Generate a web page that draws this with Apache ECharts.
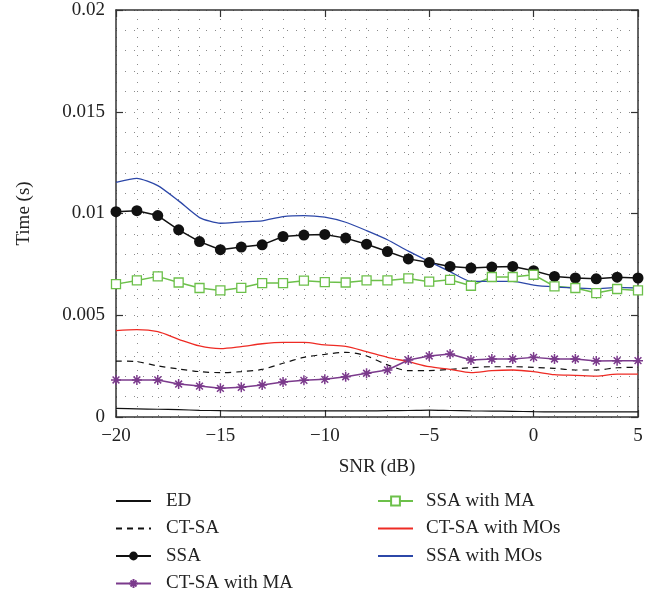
<!DOCTYPE html>
<html>
<head>
<meta charset="utf-8">
<script src="https://cdn.jsdelivr.net/npm/echarts@6/dist/echarts.min.js"></script>
<style>
  html, body { margin: 0; padding: 0; background: #fff; }
  #chart { width: 658px; height: 599px; }
</style>
</head>
<body>
<div id="chart"></div>
<script>
// SNR sweep (dB)
const snr = [-20, -19, -18, -17, -16, -15, -14, -13, -12, -11, -10, -9, -8, -7, -6, -5, -4, -3, -2, -1, 0, 1, 2, 3, 4, 5];

// Sensing time (s) for each method
const ed = [0.00042, 0.00040, 0.00038, 0.00036, 0.00033, 0.00031, 0.00030, 0.00030, 0.00030, 0.00030, 0.00030, 0.00030, 0.00030, 0.00031, 0.00032, 0.00034, 0.00032, 0.00030, 0.00029, 0.00028, 0.00026, 0.00025, 0.00025, 0.00025, 0.00025, 0.00025];
const ctsa = [0.00275, 0.00272, 0.00251, 0.00236, 0.00223, 0.00218, 0.00223, 0.00234, 0.00264, 0.00293, 0.00308, 0.00318, 0.00300, 0.00256, 0.00228, 0.00228, 0.00234, 0.00242, 0.00247, 0.00247, 0.00244, 0.00239, 0.00231, 0.00231, 0.00242, 0.00244];
const ssa = [0.01009, 0.01014, 0.00990, 0.00920, 0.00862, 0.00822, 0.00835, 0.00846, 0.00887, 0.00894, 0.00897, 0.00879, 0.00849, 0.00813, 0.00777, 0.00759, 0.00740, 0.00732, 0.00737, 0.00740, 0.00719, 0.00691, 0.00683, 0.00679, 0.00687, 0.00683];
const ctsaMA = [0.00182, 0.00182, 0.00182, 0.00162, 0.00152, 0.00141, 0.00146, 0.00157, 0.00172, 0.00180, 0.00185, 0.00198, 0.00215, 0.00231, 0.00280, 0.00300, 0.00310, 0.00280, 0.00285, 0.00285, 0.00293, 0.00285, 0.00285, 0.00275, 0.00277, 0.00277];
const ssaMA = [0.00653, 0.00671, 0.00691, 0.00661, 0.00634, 0.00622, 0.00635, 0.00658, 0.00658, 0.00670, 0.00663, 0.00661, 0.00671, 0.00671, 0.00681, 0.00665, 0.00674, 0.00645, 0.00688, 0.00688, 0.00699, 0.00642, 0.00634, 0.00609, 0.00629, 0.00622];
const ctsaMOs = [0.00424, 0.00429, 0.00419, 0.00382, 0.00349, 0.00336, 0.00346, 0.00360, 0.00367, 0.00367, 0.00354, 0.00347, 0.00321, 0.00293, 0.00272, 0.00247, 0.00234, 0.00218, 0.00228, 0.00231, 0.00223, 0.00208, 0.00205, 0.00201, 0.00211, 0.00211];
const ssaMOs = [0.01153, 0.01173, 0.01137, 0.01062, 0.00980, 0.00952, 0.00959, 0.00964, 0.00985, 0.00990, 0.00982, 0.00957, 0.00916, 0.00871, 0.00815, 0.00764, 0.00714, 0.00666, 0.00666, 0.00666, 0.00648, 0.00639, 0.00634, 0.00630, 0.00637, 0.00634];

// Tick labels
const xTicks = [-20, -15, -10, -5, 0, 5];
const xTickLabels = ['\u221220', '\u221215', '\u221210', '\u22125', '0', '5'];
const yTicks = [0, 0.005, 0.01, 0.015, 0.02];
const yTickLabels = ['0', '0.005', '0.01', '0.015', '0.02'];

const FONT = 'Liberation Serif';
const AXIS_COLOR = '#333';
const TEXT_COLOR = '#222';

function lookup(ticks, labels) {
  return function (v) {
    for (let i = 0; i < ticks.length; i++) {
      if (Math.abs(ticks[i] - v) < 1e-9) return labels[i];
    }
    return '';
  };
}

function pairs(ys) {
  return snr.map((x, i) => [x, ys[i]]);
}

const asterisk = 'path://M5,0L5,10M0,5L10,5M1.6,1.6L8.4,8.4M8.4,1.6L1.6,8.4';

const dotted = { color: '#8a8a8a', width: 1, type: [1, 8] };

// legend entries for plain lines: hide the marker, keep the stroke
function plainEntry(name) {
  return { name: name, itemStyle: { opacity: 0 } };
}

const chart = echarts.init(document.getElementById('chart'), null, { renderer: 'canvas' });

const legendText = { fontFamily: FONT, fontSize: 19, lineHeight: 20, color: TEXT_COLOR };

chart.setOption({
  backgroundColor: '#fff',
  animation: false,
  grid: { left: 116, right: 20, top: 10, bottom: 182, containLabel: false, outerBoundsMode: 'none', show: false },
  xAxis: [{
    type: 'value', min: -20, max: 5, interval: 5, position: 'bottom',
    name: 'SNR (dB)', nameLocation: 'middle', nameGap: 41,
    nameTextStyle: { fontFamily: FONT, fontSize: 19, color: TEXT_COLOR },
    axisLine: { show: true, onZero: false, lineStyle: { color: AXIS_COLOR, width: 1.5 } },
    axisTick: { show: true, inside: true, length: 7, lineStyle: { color: AXIS_COLOR, width: 1.2 } },
    axisLabel: { margin: 10, fontFamily: FONT, fontSize: 19, color: TEXT_COLOR, formatter: lookup(xTicks, xTickLabels) },
    splitLine: { show: true, lineStyle: dotted },
    minorTick: { show: false, splitNumber: 5 },
    minorSplitLine: { show: true, lineStyle: dotted }
  }, {
    type: 'value', min: -20, max: 5, interval: 5, position: 'top',
    axisLine: { show: true, onZero: false, lineStyle: { color: AXIS_COLOR, width: 1.5 } },
    axisTick: { show: true, inside: true, length: 7, lineStyle: { color: AXIS_COLOR, width: 1.2 } },
    axisLabel: { show: false },
    splitLine: { show: false }
  }],
  yAxis: [{
    type: 'value', min: 0, max: 0.02, interval: 0.005, position: 'left',
    name: 'Time (s)', nameLocation: 'middle', nameGap: 82,
    nameTextStyle: { fontFamily: FONT, fontSize: 19, color: TEXT_COLOR },
    axisLine: { show: true, onZero: false, lineStyle: { color: AXIS_COLOR, width: 1.5 } },
    axisTick: { show: true, inside: true, length: 7, lineStyle: { color: AXIS_COLOR, width: 1.2 } },
    axisLabel: { margin: 11, fontFamily: FONT, fontSize: 19, color: TEXT_COLOR, formatter: lookup(yTicks, yTickLabels) },
    splitLine: { show: true, lineStyle: dotted },
    minorTick: { show: false, splitNumber: 5 },
    minorSplitLine: { show: true, lineStyle: dotted }
  }, {
    type: 'value', min: 0, max: 0.02, interval: 0.005, position: 'right',
    axisLine: { show: true, onZero: false, lineStyle: { color: AXIS_COLOR, width: 1.5 } },
    axisTick: { show: true, inside: true, length: 7, lineStyle: { color: AXIS_COLOR, width: 1.2 } },
    axisLabel: { show: false },
    splitLine: { show: false }
  }],
  legend: [{
    orient: 'vertical', left: 115, top: 491, padding: 0, itemWidth: 35, itemHeight: 11, itemGap: 7.5,
    textStyle: Object.assign({ padding: [0, 0, 0, 10] }, legendText),
    data: [plainEntry('ED'), plainEntry('CT-SA'), 'SSA', 'CT-SA with MA']
  }, {
    orient: 'vertical', left: 377, top: 491, padding: 0, itemWidth: 35, itemHeight: 11, itemGap: 7.5,
    textStyle: Object.assign({ padding: [0, 0, 0, 8] }, legendText),
    data: ['SSA with MA', plainEntry('CT-SA with MOs'), plainEntry('SSA with MOs')]
  }],
  series: [
    {
      name: 'ED', type: 'line', data: pairs(ed), symbol: 'none', smooth: 0.3,
      lineStyle: { color: '#111', width: 1.2 }, itemStyle: { color: '#111' }
    },
    {
      name: 'CT-SA', type: 'line', data: pairs(ctsa), symbol: 'none', smooth: 0.3,
      lineStyle: { color: '#111', width: 1.2, type: [6, 5] }, itemStyle: { color: '#111' }
    },
    {
      name: 'SSA', type: 'line', data: pairs(ssa), symbol: 'circle', symbolSize: 11,
      lineStyle: { color: '#111', width: 1.5 }, itemStyle: { color: '#111' }
    },
    {
      name: 'CT-SA with MA', type: 'line', data: pairs(ctsaMA), symbol: asterisk, symbolSize: 10,
      lineStyle: { color: '#7b3a8c', width: 1.5 },
      itemStyle: { color: 'rgba(0,0,0,0)', borderColor: '#7b3a8c', borderWidth: 1.5 }
    },
    {
      name: 'SSA with MA', type: 'line', data: pairs(ssaMA), symbol: 'rect', symbolSize: 9,
      lineStyle: { color: '#6cc04a', width: 1.5 },
      itemStyle: { color: '#fff', borderColor: '#6cc04a', borderWidth: 1.3 }
    },
    {
      name: 'CT-SA with MOs', type: 'line', data: pairs(ctsaMOs), symbol: 'none', smooth: 0.3,
      lineStyle: { color: '#ee2b24', width: 1.3 }, itemStyle: { color: '#ee2b24' }
    },
    {
      name: 'SSA with MOs', type: 'line', data: pairs(ssaMOs), symbol: 'none', smooth: 0.2,
      lineStyle: { color: '#2c47a8', width: 1.3 }, itemStyle: { color: '#2c47a8' }
    }
  ]
});
</script>
</body>
</html>
